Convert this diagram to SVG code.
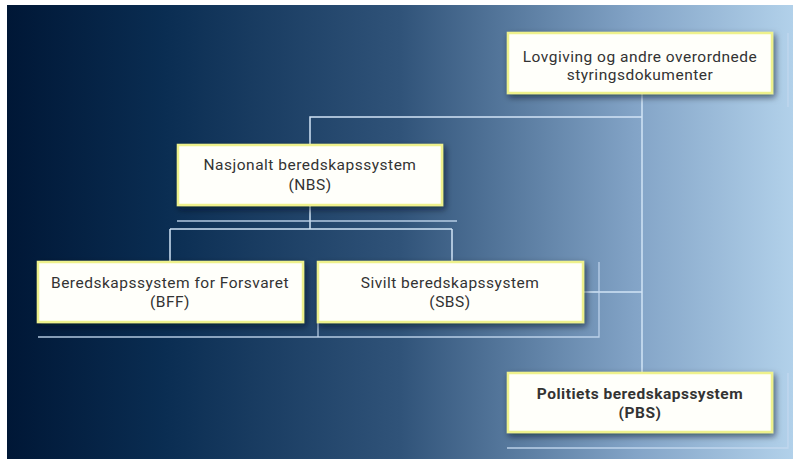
<svg xmlns="http://www.w3.org/2000/svg" width="793" height="459" viewBox="0 0 793 459">
<defs>
<linearGradient id="bg" x1="0" y1="0" x2="1" y2="0">
<stop offset="0" stop-color="#001736"/>
<stop offset="0.2" stop-color="#0a2d52"/>
<stop offset="0.5" stop-color="#305379"/>
<stop offset="0.8" stop-color="#83a4c7"/>
<stop offset="1" stop-color="#b2d1ea"/>
</linearGradient>
<filter id="sh" x="-10%" y="-20%" width="125%" height="150%">
<feDropShadow dx="2" dy="3" stdDeviation="3" flood-color="#000c20" flood-opacity="0.6"/>
</filter>
<style>
.box{fill:#fffffa;stroke:#eef18c;stroke-width:2.5;filter:url(#sh)}
.t{font-family:Roboto,"Liberation Sans",sans-serif;font-size:15.5px;letter-spacing:0.5px;fill:#333;text-anchor:middle}
.b{font-weight:bold}
.ln{stroke:#d2e4f6;stroke-width:1.5;fill:none}
.dl{stroke:#c4d8ee;stroke-width:1.3;fill:none;opacity:0.9}
</style>
</defs>
<rect x="0" y="0" width="793" height="459" fill="#ffffff"/>
<rect x="7" y="5" width="786" height="454" fill="url(#bg)"/>
<g id="connectors">
<path class="ln" d="M642 93 V373"/>
<path class="ln" d="M642 117 H310 V145"/>
<path class="ln" d="M310 205 V229"/>
<path class="ln" d="M170 229 H452"/>
<path class="ln" d="M170 229 V262"/>
<path class="ln" d="M452 229 V262"/>
<path class="ln" d="M583 292 H642"/>
<path class="dl" d="M788 33 V107"/>
<path class="dl" d="M177 221 H457"/>
<path class="dl" d="M38 337 H599 V262"/>
<path class="dl" d="M318 322 V337"/>
<path class="dl" d="M507 448 H788 V373"/>
</g>
<g id="lovgiving">
<rect class="box" x="508" y="33" width="264" height="60"/>
<text class="t" x="640" y="62">Lovgiving og andre overordnede</text>
<text class="t" x="640" y="80">styringsdokumenter</text>
</g>
<g id="nbs">
<rect class="box" x="178" y="145" width="264" height="60"/>
<text class="t" x="310" y="170">Nasjonalt beredskapssystem</text>
<text class="t" x="310" y="190">(NBS)</text>
</g>
<g id="bff">
<rect class="box" x="38" y="262" width="265" height="60"/>
<text class="t" x="170" y="288">Beredskapssystem for Forsvaret</text>
<text class="t" x="170" y="307">(BFF)</text>
</g>
<g id="sbs">
<rect class="box" x="318" y="262" width="265" height="60"/>
<text class="t" x="450" y="288">Sivilt beredskapssystem</text>
<text class="t" x="450" y="307">(SBS)</text>
</g>
<g id="pbs">
<rect class="box" x="508" y="373" width="264" height="59"/>
<text class="t b" x="640" y="399">Politiets beredskapssystem</text>
<text class="t b" x="640" y="418">(PBS)</text>
</g>
</svg>
